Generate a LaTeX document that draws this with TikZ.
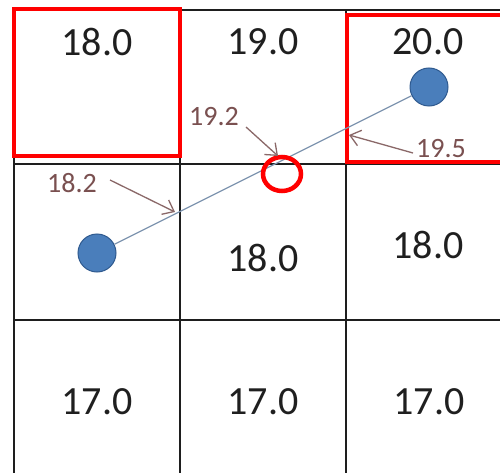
\documentclass[tikz,border=0pt]{standalone}
\usepackage{fontspec}
\setmainfont{Carlito}
\usetikzlibrary{arrows.meta,shapes.geometric}
\definecolor{gridc}{HTML}{1E1E1E}
\definecolor{redc}{HTML}{FF0000}
\definecolor{labc}{HTML}{7A5050}
\definecolor{arrc}{HTML}{8A6868}
\definecolor{dotc}{HTML}{4A7EBB}
\definecolor{dotb}{HTML}{2F5A8F}
\definecolor{linec}{HTML}{7F95B0}
\begin{document}
\begin{tikzpicture}[x=1pt,y=-1pt,
  gridline/.style={draw=gridc, line width=2pt},
  val/.style={font=\fontsize{40}{42}\selectfont, text=black!88, inner sep=0pt},
  lab/.style={font=\fontsize{28}{30}\selectfont, text=labc, inner sep=0pt},
  hl/.style={draw=redc, line width=4pt},
  dot/.style={circle, fill=dotc, draw=dotb, line width=1pt, minimum size=38pt, inner sep=0pt},
  joinline/.style={draw=linec, line width=1.3pt},
  callout/.style={draw=arrc, line width=1.3pt, -{Straight Barb[length=10pt,width=16pt,line width=1.3pt]}}]
\useasboundingbox (0,0) rectangle (500,473);
\clip (0,0) rectangle (500,473);
\fill[white] (0,0) rectangle (500,473);
% grid
\draw[gridline] (14,10) -- (520,10);
\draw[gridline] (14,164) -- (520,164);
\draw[gridline] (14,320) -- (520,320);
\draw[gridline] (14,10) -- (14,490);
\draw[gridline] (180,10) -- (180,490);
\draw[gridline] (346,10) -- (346,490);
% values
\node[val] (v11) at (97,42) {18.0};
\node[val] (v12) at (263,42) {19.0};
\node[val] (v13) at (428,42) {20.0};
\node[val] (v22) at (263,258) {18.0};
\node[val] (v23) at (428,245) {18.0};
\node[val] (v31) at (97,402) {17.0};
\node[val] (v32) at (263,402) {17.0};
\node[val] (v33) at (429,402) {17.0};
% highlight boxes
\draw[hl] (14,9) rectangle (180,156);
\draw[hl] (347,15) rectangle (520,162);
% points and line
\node[dot] (pa) at (97,253) {};
\node[dot] (pb) at (429,87) {};
\draw[joinline] (pa) -- (pb);
\node[draw=redc, line width=4.5pt, ellipse, minimum width=38pt, minimum height=34pt, inner sep=0pt] (ring) at (282,174) {};
% callouts
\node[lab] (l1) at (214,117) {19.2};
\node[lab] (l2) at (72,183) {18.2};
\node[lab] (l3) at (441,149) {19.5};
\coordinate (t1) at (278,156);
\coordinate (t2) at (175,212);
\coordinate (t3) at (349,135);
\draw[callout] (246,127) -- (t1);
\draw[callout] (110,180) -- (t2);
\draw[callout] (413,153) -- (t3);
\end{tikzpicture}
\end{document}
